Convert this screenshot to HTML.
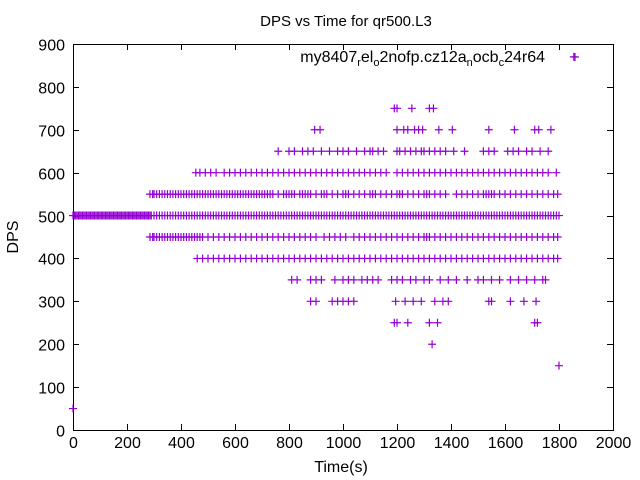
<!DOCTYPE html>
<html><head><meta charset="utf-8"><style>
body{margin:0;background:#fff}
svg{display:block;font-family:"Liberation Sans",sans-serif}
</style></head><body>
<svg id="chart" width="640" height="480" viewBox="0 0 640 480">
<rect width="640" height="480" fill="#fff"/>
<text x="346" y="26" text-anchor="middle" font-size="15">DPS vs Time for qr500.L3</text>
<g id="axes"></g>
<g id="points"></g>
<text x="341" y="472" text-anchor="middle" font-size="16">Time(s)</text>
<text transform="translate(18,237) rotate(-90)" text-anchor="middle" font-size="16">DPS</text>
<text x="545" y="62" text-anchor="end" font-size="16">my8407<tspan font-size="11" dy="4">r</tspan><tspan dy="-4">el</tspan><tspan font-size="11" dy="4">o</tspan><tspan dy="-4">2nofp.cz12a</tspan><tspan font-size="11" dy="4">n</tspan><tspan dy="-4">ocb</tspan><tspan font-size="11" dy="4">c</tspan><tspan dy="-4">24r64</tspan></text>
<g stroke="#9400d3" stroke-width="1.2"><line x1="571" y1="57" x2="579" y2="57"/><line x1="575" y1="53" x2="575" y2="61"/></g>
</svg>
<script>
const xTicks=[0,200,400,600,800,1000,1200,1400,1600,1800,2000];
const yTicks=[0,100,200,300,400,500,600,700,800,900];
const lvl500=[0,5,10,15,20,25,30,35,40,45,50,55,60,65,70,75,80,85,90,95,100,105,110,115,120,125,130,135,140,145,150,155,160,165,170,175,180,185,190,195,200,205,210,215,220,225,230,235,240,245,250,255,260,265,270,275,280,285,290,300,310,320,330,340,350,360,370,380,390,400,410,420,430,440,450,460,470,480,490,500,510,520,530,540,550,560,570,580,590,600,610,620,630,640,650,660,670,680,690,700,710,720,730,740,750,760,770,780,790,800,810,820,830,840,850,860,870,880,890,900,910,920,930,940,950,960,970,980,990,1000,1010,1020,1030,1040,1050,1060,1070,1080,1090,1100,1110,1120,1130,1140,1150,1160,1170,1180,1190,1200,1210,1220,1230,1240,1250,1260,1270,1280,1290,1300,1310,1320,1330,1340,1350,1360,1370,1380,1390,1400,1410,1420,1430,1440,1450,1460,1470,1480,1490,1500,1510,1520,1530,1540,1550,1560,1570,1580,1590,1600,1610,1620,1630,1640,1650,1660,1670,1680,1690,1700,1710,1720,1730,1740,1750,1760,1770,1780,1790,1800];
const lvl550=[285,295,300,310,320,330,340,350,360,370,380,390,400,410,420,430,440,450,460,470,480,490,500,510,520,530,540,550,560,570,580,590,600,610,620,630,640,650,660,670,680,690,700,710,720,730,740,760,780,790,800,810,820,840,850,860,870,880,900,920,930,940,960,980,1000,1010,1020,1040,1060,1080,1100,1110,1120,1140,1160,1180,1200,1210,1220,1240,1260,1280,1300,1310,1320,1340,1360,1380,1420,1440,1460,1480,1500,1520,1530,1540,1550,1560,1580,1600,1620,1640,1660,1680,1700,1720,1740,1760,1780,1795];
const lvl450=[285,295,300,310,320,330,340,350,360,370,380,390,400,410,420,430,440,450,460,470,480,500,520,540,560,580,600,620,640,660,680,700,720,740,760,780,800,820,840,860,880,900,930,950,970,990,1010,1040,1060,1080,1100,1120,1140,1160,1180,1200,1220,1240,1260,1280,1300,1310,1320,1340,1360,1380,1400,1420,1440,1460,1480,1500,1520,1540,1560,1580,1600,1620,1640,1660,1680,1700,1720,1740,1760,1780,1795];
const lvl600=[455,470,490,510,530,560,580,600,620,640,660,680,700,720,740,760,780,800,820,840,860,880,900,920,940,960,980,1000,1020,1040,1060,1080,1100,1120,1140,1160,1200,1220,1240,1260,1280,1300,1320,1340,1360,1380,1400,1420,1440,1460,1480,1500,1520,1540,1560,1580,1600,1620,1640,1660,1680,1700,1720,1740,1760,1790];
const lvl400=[460,480,500,520,540,560,580,600,620,640,660,680,700,720,740,760,780,800,820,840,860,880,900,920,940,960,980,1000,1020,1040,1060,1080,1100,1120,1140,1160,1180,1200,1220,1240,1260,1280,1300,1320,1340,1360,1380,1400,1420,1440,1460,1480,1500,1520,1540,1560,1580,1600,1620,1640,1660,1680,1700,1720,1740,1760,1780,1795];
const lvl650=[760,800,820,850,870,890,920,950,980,1000,1020,1050,1080,1100,1110,1130,1150,1200,1210,1230,1250,1270,1290,1300,1320,1340,1360,1380,1410,1450,1520,1540,1560,1610,1630,1650,1680,1700,1730,1760];
const lvl350=[810,830,880,900,920,970,1000,1020,1040,1070,1090,1110,1130,1180,1200,1220,1250,1270,1300,1320,1360,1390,1420,1460,1500,1520,1550,1580,1620,1650,1680,1710,1740,1750];
const lvl700=[895,915,1200,1225,1240,1265,1280,1295,1355,1405,1540,1635,1710,1725,1770];
const lvl750=[1190,1200,1255,1320,1335];
const lvl300=[880,900,960,980,1000,1020,1040,1195,1230,1260,1290,1340,1370,1390,1540,1550,1620,1670,1715];
const lvl250=[1190,1200,1240,1320,1350,1710,1720];
const lvlOther=[[0,50],[1330,200],[1800,150],[1855,870]];
const X=v=>73+v*540/2000, Y=v=>430-v*386/900;
const NS="http://www.w3.org/2000/svg";
const ax=document.getElementById('axes');
function L(p,x1,y1,x2,y2,name){const l=document.createElementNS(NS,'line');l.setAttribute('x1',x1);l.setAttribute('y1',y1);l.setAttribute('x2',x2);l.setAttribute('y2',y2);l.setAttribute('stroke','#000');l.setAttribute('stroke-width','1');


p.appendChild(l);return l;}
function T(x,y,s,anchor,name){const t=document.createElementNS(NS,'text');t.setAttribute('x',x);t.setAttribute('y',y);t.setAttribute('text-anchor',anchor);t.setAttribute('font-size','16');t.textContent=s;


ax.appendChild(t);}
const fr=document.createElementNS(NS,'rect');fr.setAttribute('x',73.5);fr.setAttribute('y',44.5);fr.setAttribute('width',540);fr.setAttribute('height',386);fr.setAttribute('fill','none');fr.setAttribute('stroke','#000');


ax.appendChild(fr);
xTicks.forEach(v=>{const x=Math.round(X(v))+0.5;L(ax,x,430,x,424,'x-tick');L(ax,x,44,x,50,'x-tick-top');T(x,448,String(v),'middle','x-tick-label');});
yTicks.forEach(v=>{const y=Math.round(Y(v))+0.5;L(ax,73,y,79,y,'y-tick');L(ax,613,y,607,y,'y-tick-right');T(65,y+6,String(v),'end','y-tick-label');});
const pg=document.getElementById('points');
function P(t,d){const g=document.createElementNS(NS,'path');const x=X(t),y=Y(d);g.setAttribute('d',`M${x-4} ${y}H${x+4}M${x} ${y-4}V${y+4}`);g.setAttribute('stroke','#9400d3');g.setAttribute('stroke-width','1.2');g.setAttribute('fill','none');


pg.appendChild(g);}
[[lvl500,500],[lvl550,550],[lvl450,450],[lvl600,600],[lvl400,400],[lvl650,650],[lvl350,350],[lvl700,700],[lvl750,750],[lvl300,300],[lvl250,250]].forEach(([a,d])=>a.forEach(t=>P(t,d)));
lvlOther.forEach(([t,d])=>P(t,d));
</script>
</body></html>
